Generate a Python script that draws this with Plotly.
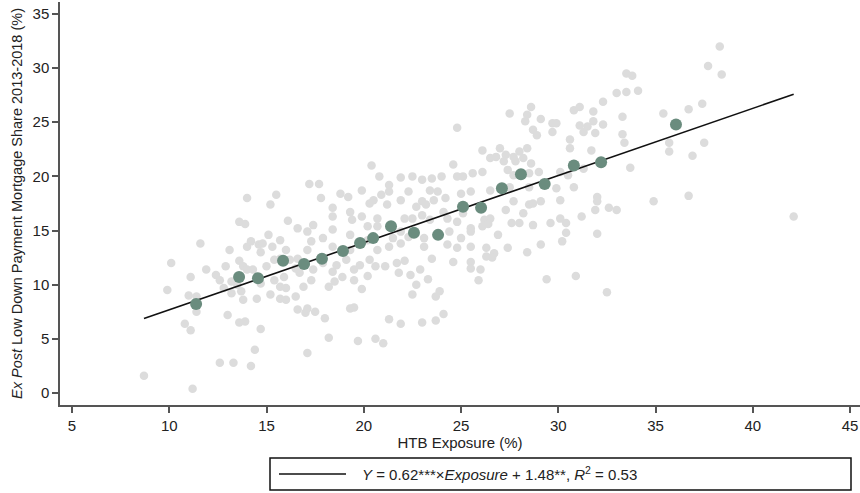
import plotly.graph_objects as go

# ---- data ----
gray_x = [14.0, 15.5, 15.2, 13.6, 13.9, 16.1, 16.6, 11.6, 13.1, 14.0, 14.2, 14.6, 14.8, 15.1, 15.7, 15.3, 16.0, 14.7,
          10.1, 11.1, 11.9, 12.4, 12.6, 12.9, 13.6, 13.8, 14.0, 14.3, 15.0, 15.4, 15.7, 16.2, 16.6, 9.9, 11.0, 11.4,
          12.8, 13.2, 13.7, 13.8, 14.5, 15.2, 15.7, 16.0, 15.7, 16.0, 16.5, 16.6, 13.0, 11.4, 10.8, 11.1, 13.6, 13.9,
          14.7, 14.4, 12.6, 13.3, 14.2, 8.7, 11.2, 13.2, 13.5, 14.7, 15.4, 15.9,
          20.4, 20.8, 17.2, 17.7, 19.9, 21.3, 21.9, 22.5, 23.0, 23.5, 24.0, 24.6, 24.8, 25.1, 25.6, 26.1, 18.8, 19.2,
          17.8, 20.5, 20.9, 21.3, 22.3, 23.4, 23.8, 23.0, 23.2, 23.6, 24.2, 25.0, 25.5, 18.4, 19.3, 20.3, 21.2, 21.9,
          22.7, 24.1, 25.1, 17.4, 18.4, 19.4, 19.9, 20.7, 20.2, 20.7, 22.1, 22.5, 23.0, 23.4, 24.3, 24.8, 25.5, 26.2,
          17.1, 17.9, 18.4, 19.3, 20.2, 21.5, 21.9, 22.3, 23.1, 24.4, 25.0, 25.5, 26.1, 17.3, 18.4, 19.3, 20.7, 21.3,
          21.9, 23.1, 24.3, 24.8, 25.5, 26.3, 17.1,
          16.9, 17.0, 17.1, 17.5, 18.0, 18.2, 18.5, 18.9, 19.5, 19.9, 20.2, 19.3, 19.5, 18.2, 19.7, 20.6, 21.0, 17.1,
          21.3, 21.9, 23.0, 23.7, 24.1, 22.5, 22.7, 22.4, 21.8, 22.1, 21.7, 21.1, 22.9, 23.3, 23.5, 23.7, 23.9, 24.6,
          25.5, 25.5, 26.0, 25.9, 26.3, 20.3, 19.8, 19.5, 18.6, 18.4, 19.1, 17.3, 17.4, 16.7, 16.5, 17.9, 20.6,
          33.0, 33.5, 34.1, 28.6, 27.5, 28.4, 28.3, 29.1, 29.7, 29.9, 30.8, 31.1, 31.8, 32.3, 31.1, 31.5, 31.8, 32.3,
          33.3, 35.4, 28.7, 28.9, 29.7, 30.6, 31.3, 31.9, 33.3, 33.4, 27.0, 27.3, 27.7, 28.0, 28.4, 26.5, 26.8, 27.2,
          27.8, 28.2, 28.6, 30.6, 31.7, 35.7, 35.7, 27.4, 27.7, 28.5, 29.0, 30.1, 30.5, 31.3, 33.7, 26.5, 27.5, 28.5,
          29.9, 30.8, 27.7, 28.5, 28.7, 29.1, 28.2, 27.3, 30.1, 32.0, 32.0, 31.9, 32.6, 33.0, 34.9, 30.1, 31.2, 26.5,
          27.6, 28.7, 29.6, 30.4, 26.9, 30.4, 32.0, 27.4, 29.1, 30.2, 28.4, 26.7,
          26.6, 29.4, 30.9, 32.5, 26.4, 28.0,
          38.3, 37.7, 38.4, 33.5, 33.8, 36.7, 37.4, 36.9, 37.5,
          36.7, 42.1, 24.8, 26.1]
gray_y = [18.0, 18.3, 17.4, 15.8, 15.6, 15.9, 15.2, 13.8, 13.2, 13.5, 14.0, 13.7, 13.8, 14.6, 14.1, 13.5, 13.2, 13.0,
          12.0, 10.7, 11.4, 10.9, 10.4, 11.7, 12.2, 11.7, 11.4, 11.4, 11.7, 12.3, 12.4, 12.3, 12.4, 9.5, 9.0, 8.9,
          9.7, 9.2, 9.4, 8.6, 8.7, 9.1, 9.8, 9.7, 8.7, 8.6, 8.9, 7.7, 7.2, 7.5, 6.4, 5.8, 6.5, 6.6,
          5.9, 4.0, 2.8, 2.8, 2.5, 1.6, 0.4, 10.3, 10.0, 10.1, 10.4, 10.7,
          21.0, 20.0, 19.3, 19.3, 18.7, 19.2, 19.9, 20.0, 19.7, 19.8, 20.0, 21.1, 20.0, 20.0, 20.3, 20.4, 18.4, 18.1,
          18.0, 17.8, 18.3, 18.6, 18.6, 18.7, 18.6, 17.7, 17.4, 17.8, 18.0, 18.4, 18.6, 17.1, 16.7, 17.5, 17.4, 17.8,
          17.2, 16.7, 16.6, 15.5, 16.3, 16.0, 16.3, 16.1, 15.4, 15.4, 16.1, 16.1, 16.4, 16.0, 16.1, 15.8, 15.2, 16.0,
          14.9, 14.3, 15.1, 14.6, 14.1, 14.3, 14.9, 14.4, 14.3, 14.9, 14.3, 14.9, 15.4, 14.0, 13.5, 13.2, 13.2, 13.5,
          13.8, 13.5, 13.7, 13.4, 13.5, 13.4, 13.2,
          9.8, 7.4, 7.8, 7.5, 6.9, 9.8, 10.3, 10.7, 10.4, 9.6, 10.8, 7.8, 7.9, 5.1, 4.8, 5.0, 4.6, 3.7,
          6.8, 6.4, 6.5, 6.7, 7.3, 9.1, 10.0, 10.9, 11.1, 12.2, 12.0, 11.7, 11.4, 10.5, 12.4, 8.9, 9.4, 12.1,
          12.1, 11.5, 11.4, 10.4, 12.6, 12.3, 11.8, 11.4, 11.8, 11.2, 12.3, 10.4, 11.4, 11.1, 11.5, 12.0, 11.7,
          27.7, 27.8, 27.9, 26.4, 25.8, 25.7, 25.1, 25.3, 24.9, 24.9, 26.1, 26.4, 26.0, 26.9, 24.7, 24.6, 25.1, 24.8,
          25.5, 25.8, 24.3, 23.8, 24.1, 23.4, 24.1, 24.0, 23.9, 23.1, 22.6, 22.0, 21.8, 22.3, 22.6, 21.7, 21.8, 21.4,
          21.4, 21.7, 21.2, 22.6, 22.4, 23.1, 22.3, 20.6, 20.1, 20.3, 20.4, 20.4, 20.1, 20.7, 20.8, 18.7, 19.0, 19.0,
          18.9, 19.0, 17.7, 17.4, 17.5, 17.7, 16.6, 16.9, 17.8, 18.1, 17.7, 16.9, 17.1, 16.9, 17.7, 16.1, 16.3, 16.1,
          15.7, 15.5, 15.7, 15.7, 14.6, 14.8, 14.7, 13.4, 13.7, 14.0, 13.0, 12.9,
          12.5, 10.5, 10.8, 9.3, 15.6, 15.7,
          32.0, 30.2, 29.4, 29.5, 29.3, 26.2, 26.7, 21.9, 23.1,
          18.2, 16.3, 24.5, 22.4]

bin_x = [11.38, 13.59, 14.56, 15.85, 16.93, 17.85, 18.93, 19.81, 20.48, 21.4,
         22.58, 23.82, 25.1, 26.03, 27.1, 28.08, 29.3, 30.8, 32.2, 36.05]
bin_y = [8.22, 10.7, 10.6, 12.2, 11.9, 12.4, 13.1, 13.85, 14.3, 15.4,
         14.8, 14.6, 17.2, 17.1, 18.9, 20.2, 19.3, 21.0, 21.3, 24.8]

slope = 0.62
intercept = 1.48
fit_x = [8.7, 42.1]
fit_y = [slope * v + intercept for v in fit_x]

x_ticks = [5, 10, 15, 20, 25, 30, 35, 40, 45]
y_ticks = [0, 5, 10, 15, 20, 25, 30, 35]

legend_text = "<i>Y</i> = 0.62***×<i>Exposure</i> + 1.48**, <i>R</i><sup>2</sup> = 0.53"

FONT = "Liberation Sans, Arial, sans-serif"
AXIS_COLOR = "#555555"
TEXT_COLOR = "#222222"

fig = go.Figure()
fig.add_trace(go.Scatter(x=gray_x, y=gray_y, mode="markers",
                         marker=dict(size=8.5, color="#dcdcdc", line=dict(width=0)),
                         hoverinfo="x+y", showlegend=False))
fig.add_trace(go.Scatter(x=fit_x, y=fit_y, mode="lines",
                         line=dict(color="#111111", width=1.6), showlegend=False))
fig.add_trace(go.Scatter(x=bin_x, y=bin_y, mode="markers",
                         marker=dict(size=12, color="#6a8c7e", line=dict(width=0)),
                         showlegend=False))

fig.update_layout(
    width=860, height=493,
    margin=dict(l=60, r=0, t=2, b=88, autoexpand=False),
    plot_bgcolor="white", paper_bgcolor="white",
    font=dict(family=FONT, size=14, color=TEXT_COLOR),
    showlegend=False,
)
fig.update_xaxes(range=[4.383, 45.51], tickvals=x_ticks, showgrid=False, zeroline=False,
                 showline=True, linecolor=AXIS_COLOR, linewidth=1.5, automargin=False,
                 ticks="outside", ticklen=6, tickwidth=1.5, tickcolor=AXIS_COLOR,
                 tickfont=dict(size=15, color=TEXT_COLOR),
                 title=dict(text="HTB Exposure (%)", font=dict(size=15, color=TEXT_COLOR), standoff=2))
fig.update_yaxes(range=[-1.108, 36.1], tickvals=y_ticks, showgrid=False, zeroline=False,
                 showline=True, linecolor=AXIS_COLOR, linewidth=1.5, automargin=False,
                 ticks="outside", ticklen=6, tickwidth=1.5, tickcolor=AXIS_COLOR,
                 tickfont=dict(size=15, color=TEXT_COLOR),
                 title=dict(text="<i>Ex Post</i> Low Down Payment Mortgage Share 2013-2018 (%)",
                            font=dict(size=14.5, color=TEXT_COLOR), standoff=6))

# legend box drawn below the plot
fig.add_shape(type="rect", xref="paper", yref="paper",
              x0=0.2625, x1=0.98875, y0=-0.2109, y1=-0.1315,
              line=dict(color="#111111", width=1.5), fillcolor="white")
fig.add_shape(type="line", xref="paper", yref="paper",
              x0=0.27375, x1=0.3575, y0=-0.1712, y1=-0.1712,
              line=dict(color="#111111", width=1.6))
fig.add_annotation(xref="paper", yref="paper", x=0.375, y=-0.1712,
                   xanchor="left", yanchor="middle", showarrow=False,
                   text=legend_text, font=dict(size=15, color=TEXT_COLOR))

fig.write_html("out.html", config={"displayModeBar": False},
               post_script="document.body.style.margin='0';document.body.style.padding='0';")
